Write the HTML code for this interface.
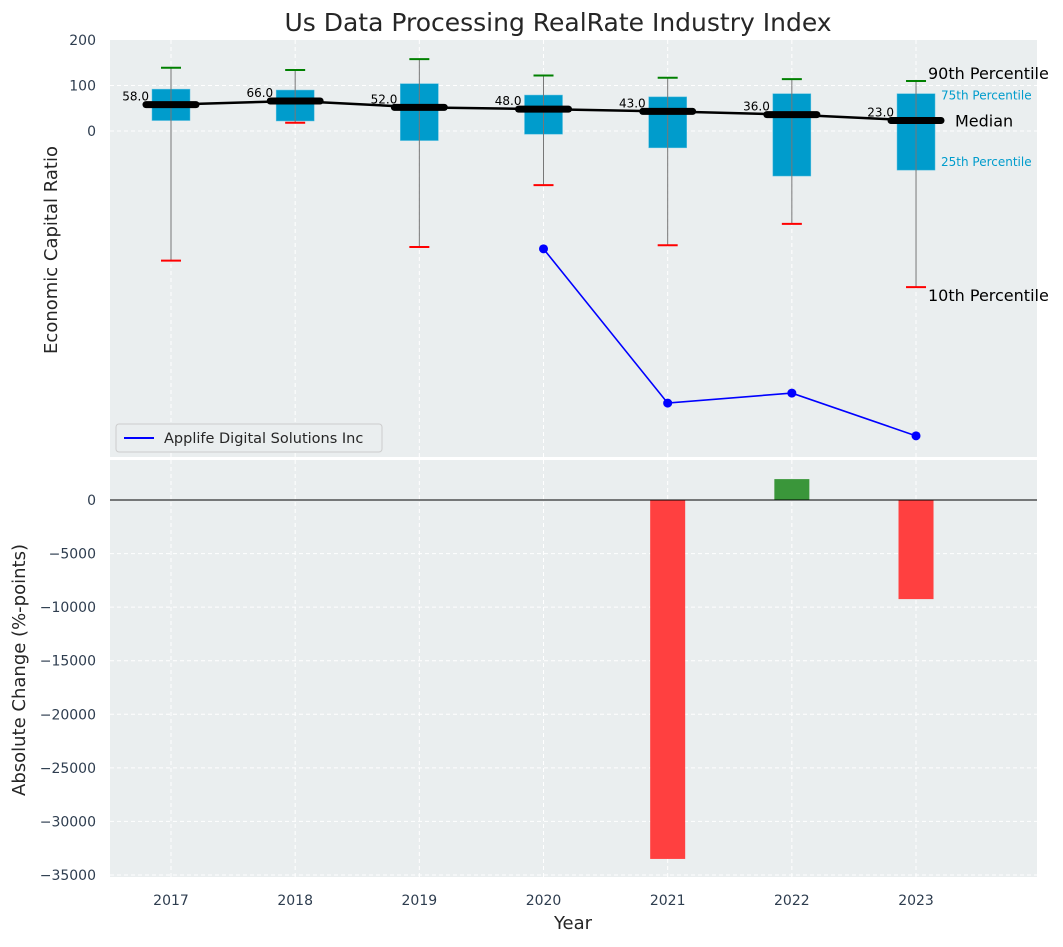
<!DOCTYPE html>
<html><head><meta charset="utf-8"><style>
body{margin:0;background:#fff;font-family:"Liberation Sans","DejaVu Sans",sans-serif}
svg text{font-family:"DejaVu Sans","Liberation Sans",sans-serif}
</style></head><body>
<svg id="chart" width="1063" height="942" xmlns="http://www.w3.org/2000/svg">
<text x="558" y="31" font-size="25" text-anchor="middle" fill="#262626">Us Data Processing RealRate Industry Index</text>
<rect x="110" y="40" width="927" height="417" fill="#eaeeef"/>
<rect x="110" y="460" width="927" height="417" fill="#eaeeef"/>
<g id="topg"></g><g id="botg"></g>
<text transform="translate(57,250) rotate(-90)" font-size="18" text-anchor="middle" fill="#262626">Economic Capital Ratio</text>
<text transform="translate(25,670) rotate(-90)" font-size="18" text-anchor="middle" fill="#262626">Absolute Change (%-points)</text>
<text x="573" y="929" font-size="18" text-anchor="middle" fill="#262626">Year</text>
<g>
<rect x="116" y="424" width="266" height="28" rx="3" fill="#eaeeef" stroke="#ccc"/>
<line x1="124" y1="438" x2="154" y2="438" stroke="#0000ff" stroke-width="2"/>
<text x="164" y="443" font-size="14.5" fill="#262626">Applife Digital Solutions Inc</text>
</g>
</svg>
<script>
const years=[2017,2018,2019,2020,2021,2022,2023];
const p90=[139,134,158,122,117,114,110];
const q75=[92,90,104,79,75,82,82];
const medians=[58,66,52,48,43,36,23];
const q25=[23,22,-21,-7,-37,-99,-86];
const p10=[-285,18,-255,-119,-251,-204,-343];
const companyYears=[2020,2021,2022,2023];
const companyValues=[-259,-598,-576,-670];
const changeYears=[2021,2022,2023];
const changeValues=[-33500,1950,-9250];
const topTicks=[200,100,0];
const botTicks=[0,-5000,-10000,-15000,-20000,-25000,-30000,-35000];

const NS="http://www.w3.org/2000/svg";
const X=y=>171+(y-2017)*124.17;
const YT=v=>131-v*0.455;
const YB=v=>500-v*(375/35000);
function mk(p,tag,at,txt){const e=document.createElementNS(NS,tag);for(const k in at)e.setAttribute(k,at[k]);if(txt!==undefined)e.textContent=txt;p.appendChild(e);return e;}
const topG=document.getElementById('topg'),botG=document.getElementById('botg');
years.forEach(y=>{
 let g=mk(topG,'line',{x1:X(y),x2:X(y),y1:40,y2:457,stroke:'#fff','stroke-dasharray':'4,3'});
 
 
 g=mk(botG,'line',{x1:X(y),x2:X(y),y1:460,y2:877,stroke:'#fff','stroke-dasharray':'4,3'});
 
 
 const t=mk(botG,'text',{x:X(y),y:905,'font-size':14,'text-anchor':'middle',fill:'#2e3d4f'},y);
 
 
});
topTicks.forEach(v=>{
 if(v<200){const g=mk(topG,'line',{x1:110,x2:1037,y1:YT(v),y2:YT(v),stroke:'#fff','stroke-dasharray':'4,3'});
 
 }
 const t=mk(topG,'text',{x:96,y:YT(v)+5,'font-size':14,'text-anchor':'end',fill:'#2e3d4f'},v);
 
 
});
botTicks.forEach(v=>{
 const g=mk(botG,'line',{x1:110,x2:1037,y1:YB(v),y2:YB(v),stroke:'#fff','stroke-dasharray':'4,3'});
 
 
 const t=mk(botG,'text',{x:96,y:YB(v)+5,'font-size':14,'text-anchor':'end',fill:'#2e3d4f'},v<0?'\u2212'+(-v):v);
 
 
});
years.forEach((y,i)=>{
 const x=X(y);
 let e=mk(topG,'rect',{x:x-19,y:YT(q75[i]),width:38,height:YT(q25[i])-YT(q75[i]),fill:'#009ccc',stroke:'#5bc0e0','stroke-width':0.5});
 
 
 e=mk(topG,'line',{x1:x,x2:x,y1:YT(p90[i]),y2:YT(p10[i]),stroke:'#777','stroke-width':1});
 
 
 e=mk(topG,'line',{x1:x-10,x2:x+10,y1:YT(p90[i]),y2:YT(p90[i]),stroke:'green','stroke-width':2});
 
 
 e=mk(topG,'line',{x1:x-10,x2:x+10,y1:YT(p10[i]),y2:YT(p10[i]),stroke:'red','stroke-width':2});
 
 
});
let pts=years.map((y,i)=>X(y)+','+YT(medians[i])).join(' ');
let ml=mk(topG,'polyline',{points:pts,fill:'none',stroke:'#000','stroke-width':2.5});


years.forEach((y,i)=>{
 const x=X(y);
 let e=mk(topG,'line',{x1:x-25,x2:x+25,y1:YT(medians[i]),y2:YT(medians[i]),stroke:'#000','stroke-width':7,'stroke-linecap':'round'});
 
 
 e=mk(topG,'text',{x:x-22,y:YT(medians[i])-4,'font-size':12,'text-anchor':'end',fill:'#000'},medians[i].toFixed(1));
 
 
});
[['90th Percentile',YT(p90[6])-2,16,'#000',928,'p90-annotation'],['75th Percentile',YT(q75[6])+6,12,'#009ccc',941,'q75-annotation'],['Median',YT(medians[6])+6,16,'#000',955,'median-annotation'],['25th Percentile',YT(q25[6])-4,12,'#009ccc',941,'q25-annotation'],['10th Percentile',YT(p10[6])+14,16,'#000',928,'p10-annotation']].forEach(a=>{
 const e=mk(topG,'text',{x:a[4],y:a[1],'font-size':a[2],fill:a[3]},a[0]);
 
 
});
let cp=companyYears.map((y,i)=>X(y)+','+YT(companyValues[i])).join(' ');
let cl=mk(topG,'polyline',{points:cp,fill:'none',stroke:'#0000ff','stroke-width':1.6});


companyYears.forEach((y,i)=>{
 const e=mk(topG,'circle',{cx:X(y),cy:YT(companyValues[i]),r:4.5,fill:'#0000ff'});
 
 
});
changeYears.forEach((y,i)=>{
 const v=changeValues[i];const y0=Math.min(YB(0),YB(v));
 const e=mk(botG,'rect',{x:X(y)-17.5,y:y0,width:35,height:Math.abs(YB(v)-YB(0)),fill:v<0?'#ff4040':'#3a963a'});
 
 
});
let z=mk(botG,'line',{x1:110,x2:1037,y1:YB(0),y2:YB(0),stroke:'#000','stroke-width':1});


</script>
</body></html>
